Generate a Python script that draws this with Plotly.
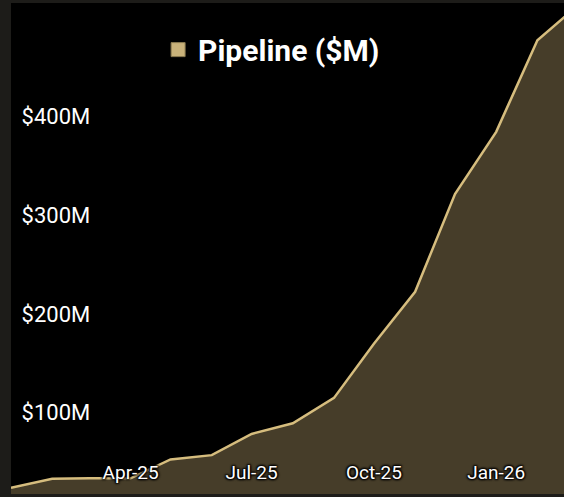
import plotly.graph_objects as go

# monthly pipeline, $M
months = ['2025-01-01', '2025-02-01', '2025-03-01', '2025-04-01', '2025-05-01',
          '2025-06-01', '2025-07-01', '2025-08-01', '2025-09-01', '2025-10-01',
          '2025-11-01', '2025-12-01', '2026-01-01', '2026-02-01', '2026-03-01']
pipeline = [24, 33, 33.5, 33.5, 52.6, 57, 78.5, 89.3, 115, 170,
            222.6, 321.6, 384.7, 477.6, 510]

y_ticks = [100, 200, 300, 400]
y_labels = ['$100M', '$200M', '$300M', '$400M']
x_ticks = ['2025-04-01', '2025-07-01', '2025-10-01', '2026-01-01']
x_labels = ['Apr-25', 'Jul-25', 'Oct-25', 'Jan-26']

LINE = '#d6bd7e'
FILL = '#463d29'
OUTLINE = '-1px -1px 2px #000, 1px -1px 2px #000, -1px 1px 2px #000, 1px 1px 2px #000'

fig = go.Figure()

fig.add_trace(go.Scatter(
    x=months,
    y=pipeline,
    mode='lines',
    line=dict(color=LINE, width=2.5),
    fill='tozeroy',
    fillcolor=FILL,
    showlegend=False,
    hovertemplate='%{x|%b-%y}<br>$%{y:.0f}M<extra></extra>'
))

# legend entry drawn as a square swatch
fig.add_trace(go.Scatter(
    x=[None], y=[None],
    mode='markers',
    name='Pipeline ($M)',
    marker=dict(symbol='square', size=14, color='#c9b27a',
                line=dict(color='#8a7a50', width=1))
))

fig.update_layout(
    width=564,
    height=497,
    margin=dict(l=11, r=0, t=3, b=3),
    paper_bgcolor='#1d1c19',
    plot_bgcolor='#000000',
    font=dict(family='Roboto', color='#ffffff'),
    legend=dict(
        orientation='h',
        x=0.266, xanchor='left',
        y=0.958, yanchor='top',
        font=dict(size=30, weight='bold', color='#ffffff'),
        bgcolor='rgba(0,0,0,0)'
    ),
    xaxis=dict(
        type='date',
        range=['2025-01-01', '2026-02-21'],
        tickvals=x_ticks,
        ticktext=x_labels,
        ticks='inside',
        ticklen=12,
        tickcolor='rgba(0,0,0,0)',
        ticklabelposition='inside',
        tickfont=dict(size=19, color='#ffffff', shadow=OUTLINE),
        showgrid=False,
        zeroline=False,
        showline=False
    ),
    yaxis=dict(
        range=[17.6, 515.3],
        tickvals=y_ticks,
        ticktext=y_labels,
        ticks='inside',
        ticklen=12,
        tickcolor='rgba(0,0,0,0)',
        ticklabelposition='inside',
        tickfont=dict(size=22, color='#ffffff'),
        showgrid=False,
        zeroline=False,
        showline=False
    )
)

fig.write_html('out.html', config={'displayModeBar': False},
               post_script="document.body.style.margin='0px';")
